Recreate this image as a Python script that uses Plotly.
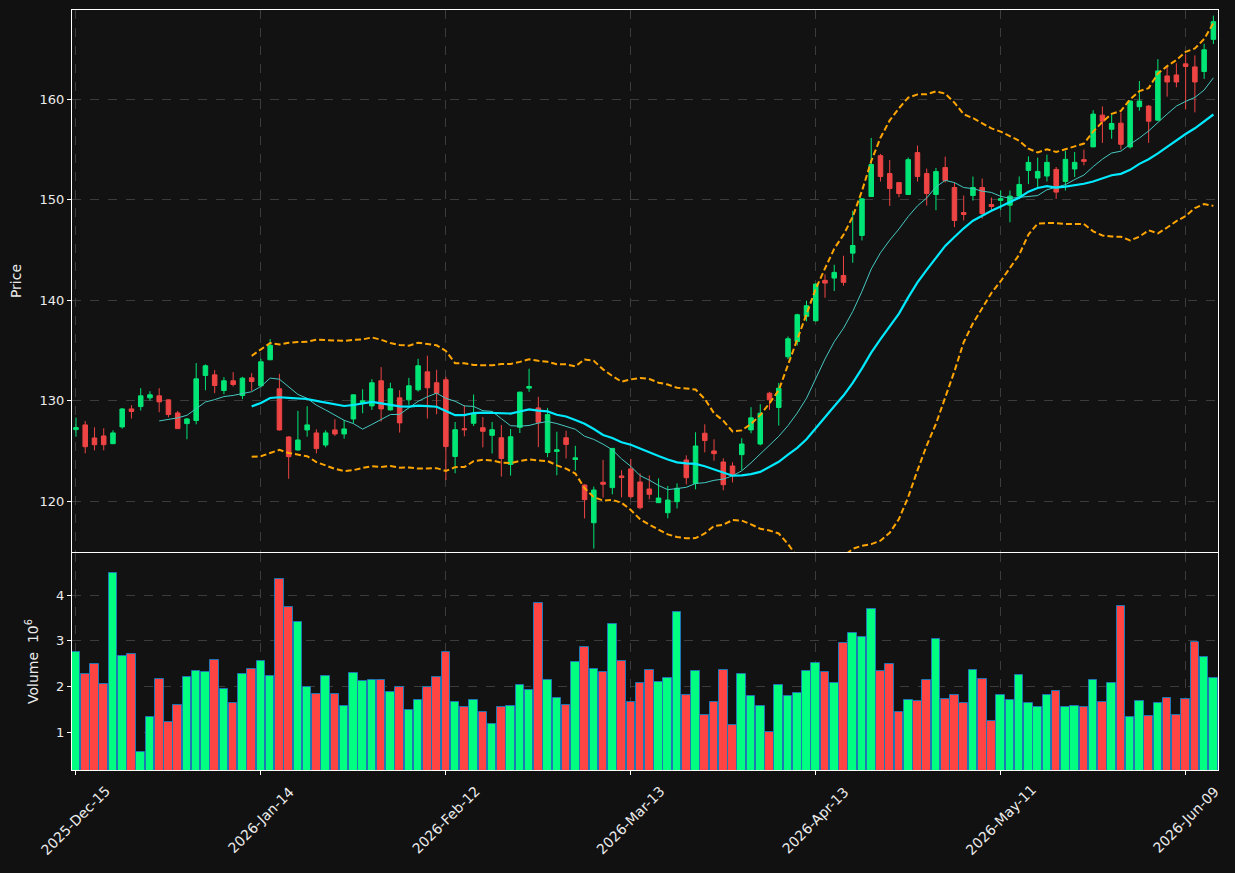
import pandas as pd
import plotly.graph_objects as go

# ---------------- data ----------------
tick_idx = [0, 20, 40, 60, 80, 100, 120]
tick_labels = ["2025-Dec-15", "2026-Jan-14", "2026-Feb-12", "2026-Mar-13",
               "2026-Apr-13", "2026-May-11", "2026-Jun-09"]

opens = [127.14, 127.61, 126.31, 126.51, 125.74, 127.41, 129.20, 129.43, 130.30, 130.50,
         130.10, 128.80, 127.74, 128.04, 132.53, 132.59, 131.03, 132.00, 130.53, 132.29,
         131.50, 134.09, 131.20, 126.41, 125.11, 127.11, 126.81, 125.61, 127.11, 126.71,
         128.20, 129.80, 129.50, 132.00, 129.10, 130.30, 130.10, 131.10, 132.89, 131.80,
         132.10, 124.47, 127.23, 127.77, 127.33, 126.57, 126.33, 123.67, 127.37, 131.27,
         129.30, 124.87, 124.97, 126.33, 124.17, 121.63, 117.87, 121.90, 121.37, 122.53,
         123.23, 121.93, 121.23, 119.87, 118.87, 119.97, 124.12, 121.79, 126.78, 125.02,
         123.92, 123.52, 124.65, 127.11, 125.71, 130.76, 129.34, 134.39, 135.91, 138.41,
         137.97, 141.99, 142.22, 142.48, 144.70, 146.46, 150.33, 154.40, 152.62, 151.72,
         150.53, 154.70, 152.62, 150.53, 153.21, 151.23, 148.74, 150.43, 151.23, 149.54,
         149.95, 149.47, 150.37, 152.93, 152.17, 152.37, 153.03, 151.83, 153.07, 154.00,
         155.27, 158.43, 157.03, 157.63, 155.27, 159.27, 159.33, 157.93, 162.33, 162.43,
         163.53, 163.23, 162.77, 165.97]
highs = [128.34, 128.00, 127.37, 127.27, 127.07, 129.27, 129.57, 131.26, 130.96, 131.26,
         130.15, 129.00, 128.30, 133.76, 133.63, 133.06, 132.36, 132.86, 132.39, 132.76,
         134.19, 136.15, 132.69, 126.50, 129.00, 129.47, 127.17, 127.07, 128.17, 128.10,
         130.65, 131.16, 132.16, 133.36, 131.80, 131.06, 132.29, 134.19, 134.49, 133.09,
         132.40, 127.90, 129.57, 130.63, 128.40, 127.90, 127.60, 127.20, 130.90, 133.20,
         130.40, 129.30, 126.93, 127.03, 125.53, 121.70, 121.47, 124.13, 125.30, 123.10,
         124.23, 122.79, 122.59, 122.29, 121.53, 121.79, 124.58, 126.88, 127.67, 126.18,
         124.29, 123.89, 126.28, 129.37, 129.67, 130.90, 131.79, 136.41, 138.67, 139.97,
         141.70, 142.58, 143.54, 144.44, 148.91, 150.15, 156.16, 154.57, 153.97, 151.75,
         154.21, 155.40, 153.11, 153.18, 154.30, 151.72, 150.43, 152.32, 152.12, 150.23,
         150.93, 150.93, 152.33, 154.33, 154.20, 154.50, 153.27, 154.87, 154.77, 155.00,
         158.93, 159.30, 158.60, 158.70, 159.90, 161.83, 159.43, 164.00, 163.33, 163.60,
         164.47, 164.37, 165.53, 168.33]
lows = [126.44, 124.78, 125.08, 125.08, 125.70, 127.24, 128.24, 129.04, 130.03, 128.87,
        128.37, 127.20, 126.18, 127.67, 131.06, 130.76, 130.66, 131.43, 130.17, 131.00,
        131.33, 134.05, 127.04, 122.25, 125.05, 126.44, 124.78, 125.38, 126.51, 126.24,
        127.77, 128.77, 129.10, 127.94, 129.05, 126.84, 129.60, 130.93, 128.24, 128.67,
        122.12, 122.80, 126.47, 127.50, 125.37, 124.77, 122.47, 122.57, 126.80, 130.90,
        125.40, 124.40, 122.60, 124.27, 123.07, 118.30, 115.30, 120.37, 120.70, 120.40,
        120.30, 119.20, 120.20, 119.85, 118.31, 119.30, 121.69, 121.20, 124.88, 124.05,
        121.10, 121.89, 123.12, 126.78, 125.58, 129.10, 127.54, 134.15, 135.51, 137.91,
        137.90, 140.26, 140.93, 141.46, 143.74, 145.96, 150.30, 151.82, 149.40, 150.26,
        150.50, 151.82, 149.44, 148.97, 151.72, 147.28, 147.95, 149.93, 148.15, 148.94,
        149.00, 147.77, 150.07, 151.57, 151.17, 151.83, 150.10, 150.93, 152.27, 153.43,
        155.25, 155.67, 156.07, 155.00, 155.10, 158.87, 155.67, 157.90, 160.27, 161.20,
        159.00, 158.70, 162.03, 165.50]
closes = [127.34, 125.44, 125.64, 125.64, 126.81, 129.20, 128.94, 130.50, 130.60, 129.90,
          128.64, 127.24, 128.20, 132.19, 133.49, 131.53, 132.00, 131.63, 132.26, 131.93,
          133.89, 135.52, 127.11, 124.45, 126.11, 127.61, 125.25, 126.81, 126.71, 127.21,
          130.60, 130.00, 131.80, 129.20, 131.20, 127.81, 131.50, 133.49, 131.30, 130.76,
          125.45, 127.13, 127.13, 128.70, 126.97, 127.13, 124.27, 126.43, 130.87, 131.43,
          127.87, 128.63, 125.13, 125.67, 124.33, 120.17, 121.13, 121.70, 125.27, 122.37,
          120.47, 119.37, 120.70, 120.33, 120.13, 121.30, 122.36, 125.51, 126.05, 124.75,
          121.66, 122.59, 125.71, 128.31, 128.77, 130.10, 131.26, 136.18, 138.57, 139.47,
          141.62, 141.72, 142.78, 141.79, 145.46, 150.10, 153.51, 152.32, 151.13, 150.63,
          154.00, 152.32, 150.63, 152.81, 151.92, 147.95, 148.54, 151.23, 148.64, 149.34,
          150.12, 150.37, 151.53, 153.73, 152.83, 153.73, 150.77, 154.03, 153.73, 153.83,
          158.53, 157.83, 157.60, 155.53, 159.83, 159.83, 157.83, 162.83, 161.73, 161.73,
          163.27, 161.73, 164.93, 167.73]
volumes_m = [2.75, 2.28, 2.49, 2.06, 4.47, 2.67, 2.71, 0.58, 1.34, 2.17,
             1.23, 1.60, 2.21, 2.34, 2.32, 2.58, 1.95, 1.64, 2.28, 2.39,
             2.56, 2.23, 4.36, 3.73, 3.41, 1.99, 1.84, 2.23, 1.84, 1.58,
             2.30, 2.12, 2.14, 2.14, 1.88, 1.99, 1.49, 1.71, 1.98, 2.21,
             2.75, 1.67, 1.56, 1.71, 1.45, 1.19, 1.56, 1.58, 2.04, 1.93,
             3.82, 2.14, 1.75, 1.60, 2.54, 2.86, 2.38, 2.32, 3.36, 2.56,
             1.67, 2.08, 2.36, 2.10, 2.19, 3.62, 1.82, 2.34, 1.38, 1.67,
             2.36, 1.17, 2.28, 1.80, 1.58, 1.01, 2.04, 1.80, 1.86, 2.34,
             2.51, 2.32, 2.08, 2.95, 3.17, 3.08, 3.69, 2.34, 2.49, 1.45,
             1.71, 1.69, 2.14, 3.04, 1.73, 1.82, 1.64, 2.36, 2.17, 1.25,
             1.82, 1.71, 2.25, 1.64, 1.56, 1.82, 1.91, 1.56, 1.58, 1.56,
             2.14, 1.67, 2.08, 3.75, 1.34, 1.69, 1.36, 1.64, 1.75, 1.38,
             1.73, 2.97, 2.64, 2.19]

# ---------------- derived ----------------
x = list(range(len(closes)))
s = pd.Series(closes)
sma10 = s.rolling(10).mean()
sma20 = s.rolling(20).mean()
std20 = s.rolling(20).std()
bb_up = sma20 + 2 * std20
bb_lo = sma20 - 2 * std20

UP_C = "#00e676"
DN_C = "#ee4444"
UP_V = "#00ff80"
DN_V = "#ff4444"
BG = "#111111"
GRID = "#3c3c3c"
FG = "#ececec"

vol_colors = [UP_V if c >= o else DN_V for o, c in zip(opens, closes)]

fig = go.Figure()
fig.add_trace(go.Candlestick(
    x=x, open=opens, high=highs, low=lows, close=closes,
    increasing=dict(line=dict(color=UP_C, width=1), fillcolor=UP_C),
    decreasing=dict(line=dict(color=DN_C, width=1), fillcolor=DN_C),
    whiskerwidth=0, xaxis="x", yaxis="y", showlegend=False))
fig.add_trace(go.Scatter(x=x, y=sma10, mode="lines", xaxis="x", yaxis="y",
                         line=dict(color="#45c8c0", width=1), showlegend=False))
fig.add_trace(go.Scatter(x=x, y=sma20, mode="lines", xaxis="x", yaxis="y",
                         line=dict(color="#00eaff", width=2.2), showlegend=False))
for band in (bb_up, bb_lo):
    fig.add_trace(go.Scatter(x=x, y=band, mode="lines", xaxis="x", yaxis="y",
                             line=dict(color="#ffa500", width=2, dash="6px,3px"),
                             showlegend=False))
fig.add_trace(go.Bar(x=x, y=volumes_m, width=0.93, xaxis="x2", yaxis="y2",
                     marker=dict(color=vol_colors, line=dict(color="#1f77b4", width=1)),
                     showlegend=False))

xr = [-0.43, 123.5]
axis_common = dict(showline=True, linecolor="white", linewidth=1, mirror=True,
                   showgrid=True, gridcolor=GRID, griddash="dash", gridwidth=1,
                   ticks="outside", ticklen=4, tickcolor="white", zeroline=False,
                   tickfont=dict(color=FG, size=13, family="DejaVu Sans"))

# rotated date labels centred under their ticks (matplotlib-style)
annotations = [dict(x=xi, y=-0.066, xref="x2", yref="paper", text=lab,
                    textangle=-45, showarrow=False, xanchor="center", yanchor="middle",
                    font=dict(size=14, color=FG, family="DejaVu Sans"))
               for xi, lab in zip(tick_idx, tick_labels)]

fig.update_layout(
    width=1235, height=873,
    paper_bgcolor=BG, plot_bgcolor="#121212",
    margin=dict(l=72, r=17, t=10, b=103),
    showlegend=False, bargap=0,
    font=dict(family="DejaVu Sans", color=FG, size=13),
    annotations=annotations,
    xaxis=dict(domain=[0, 1], anchor="y", range=xr, tickvals=tick_idx,
               showticklabels=False, rangeslider=dict(visible=False), **axis_common),
    yaxis=dict(domain=[0.2868, 1], anchor="x", range=[114.96, 168.89],
               tickvals=[120, 130, 140, 150, 160],
               title=dict(text="Price", font=dict(size=14, color=FG), standoff=14),
               **axis_common),
    xaxis2=dict(domain=[0, 1], anchor="y2", range=xr, tickvals=tick_idx,
                showticklabels=False, **axis_common),
    yaxis2=dict(domain=[0, 0.2855], anchor="x2", range=[0.177, 4.917],
                tickvals=[1, 2, 3, 4],
                title=dict(text="Volume  10<sup>6</sup>", font=dict(size=14, color=FG),
                           standoff=14),
                **axis_common),
)

fig.write_html("out.html")
